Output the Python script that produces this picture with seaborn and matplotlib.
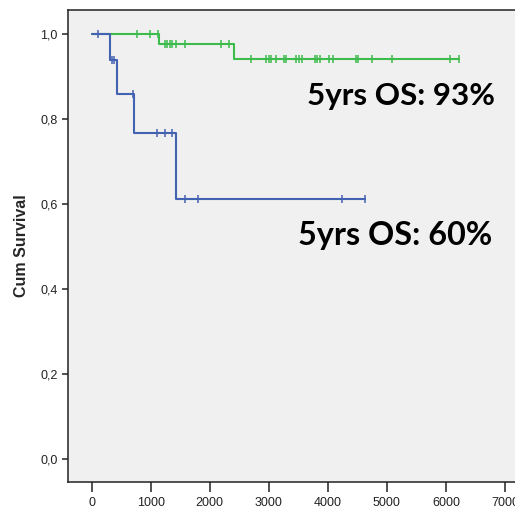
import numpy as np
import pandas as pd
import matplotlib
matplotlib.use("Agg")
import matplotlib.pyplot as plt
import seaborn as sns

# ---- data ----
green_times = [0, 1147, 2407, 6229]
green_surv = [1.0, 0.976, 0.941, 0.941]
green_censor = [768, 995, 1119, 1241, 1280, 1322, 1368, 1432, 1573, 2198, 2322,
                2703, 2961, 3000, 3046, 3119, 3254, 3288, 3466, 3514, 3571, 3785,
                3822, 3873, 4025, 4085, 4475, 4508, 4741, 5093, 6076, 6229]

blue_times = [0, 310, 424, 717, 1424, 4627]
blue_surv = [1.0, 0.939, 0.860, 0.766, 0.613, 0.613]
blue_censor = [114, 339, 385, 700, 1107, 1249, 1368, 1576, 1808, 4232, 4627]

x_ticks = [0, 1000, 2000, 3000, 4000, 5000, 6000, 7000]
y_ticks = [0.0, 0.2, 0.4, 0.6, 0.8, 1.0]
y_tick_labels = ["0,0", "0,2", "0,4", "0,6", "0,8", "1,0"]
annotations = ["5yrs OS: 93%", "5yrs OS: 60%"]

GREEN = "#3DBB4C"
BLUE = "#4462B2"


def step_value(times, surv, t):
    idx = np.searchsorted(np.asarray(times), t, side="right") - 1
    return np.asarray(surv)[idx]


steps = pd.concat([
    pd.DataFrame({"time": green_times, "surv": green_surv, "grp": "g"}),
    pd.DataFrame({"time": blue_times, "surv": blue_surv, "grp": "b"}),
])
cens = pd.concat([
    pd.DataFrame({"time": green_censor,
                  "surv": [step_value(green_times, green_surv, t) for t in green_censor],
                  "grp": "g"}),
    pd.DataFrame({"time": blue_censor,
                  "surv": [step_value(blue_times, blue_surv, t) for t in blue_censor],
                  "grp": "b"}),
])

sns.set_style("white")
plt.rcParams["font.family"] = ["Liberation Sans", "DejaVu Sans"]

W, H = 515, 509
fig = plt.figure(figsize=(W / 100, H / 100), dpi=100)
fig.patch.set_facecolor("white")
ax = fig.add_axes([68 / W, 27 / H, 496 / W, 472 / H])
ax.set_facecolor("#F0F0F0")

pal = {"g": GREEN, "b": BLUE}
for g in ["g", "b"]:
    sub = steps[steps.grp == g]
    sns.lineplot(data=sub, x="time", y="surv", color=pal[g], ax=ax,
                 drawstyle="steps-post", estimator=None, sort=False,
                 linewidth=1.5, legend=False)
    csub = cens[cens.grp == g]
    sns.scatterplot(data=csub, x="time", y="surv", color=pal[g], ax=ax,
                    marker="|", s=34, linewidth=1.1, legend=False, zorder=3)

ax.set_xlim(-400, 8000)
ax.set_ylim(-0.054, 1.0565)
ax.set_xticks(x_ticks)
ax.set_xticklabels([str(v) for v in x_ticks])
ax.set_yticks(y_ticks)
ax.set_yticklabels(y_tick_labels)
ax.tick_params(axis="x", direction="out", length=7.5, width=1.1, pad=3.5,
               labelsize=9, colors="#222222", bottom=True)
ax.tick_params(axis="y", direction="out", length=4.5, width=1.1, pad=3,
               labelsize=9, colors="#222222", left=True)
for s in ["left", "bottom", "top", "right"]:
    ax.spines[s].set_color("#222222")
    ax.spines[s].set_linewidth(1.1)

ax.set_xlabel("")
ax.set_ylabel("Cum Survival", fontsize=11.5, fontweight="bold", labelpad=8)

ax.text(3640, 0.833, annotations[0], fontsize=22.6, fontweight="bold",
        family=["Lato", "DejaVu Sans"], ha="left", va="baseline", color="black")
ax.text(3490, 0.504, annotations[1], fontsize=23.3, fontweight="bold",
        family=["Lato", "DejaVu Sans"], ha="left", va="baseline", color="black")

fig.savefig("out.png", dpi=100)
